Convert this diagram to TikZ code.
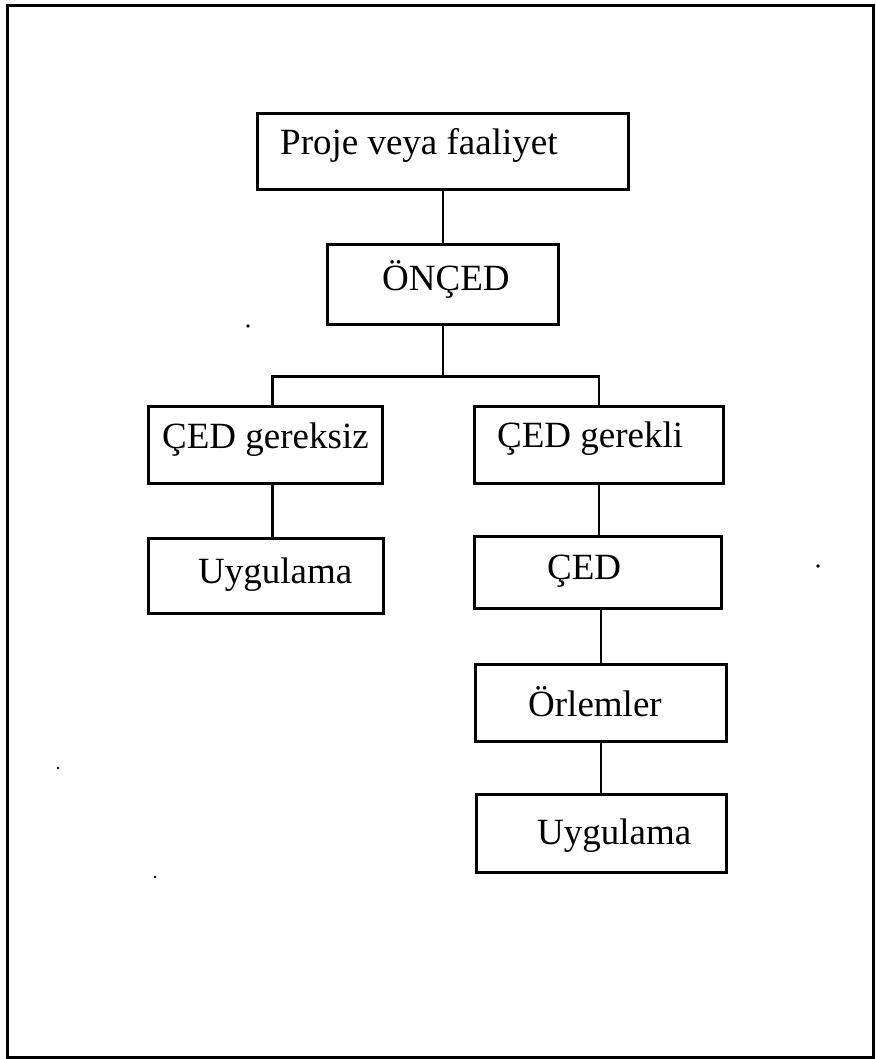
\documentclass[tikz,border=0pt]{standalone}
\usepackage{fontspec}
\setmainfont{Liberation Serif}
\tikzset{
  box/.style={draw, line width=2.6pt, rectangle, inner sep=0pt, anchor=north west},
  lbl/.style={anchor=base west, inner sep=0pt, font=\fontsize{37}{44}\selectfont},
  conn/.style={line width=2.6pt},
  frm/.style={draw, line width=3pt, rectangle, inner sep=0pt, anchor=north west},
  speck/.style={fill=black},
}
\begin{document}
\begin{tikzpicture}[x=1pt,y=-1pt]
\useasboundingbox (0,0) rectangle (877,1059);
\node[frm, minimum width=866pt, minimum height=1052pt] (frame) at (6,4) {};
% boxes
\node[box, minimum width=371pt, minimum height=76pt] (proje) at (256,112) {};
\node[box, minimum width=231pt, minimum height=80pt] (onced) at (326,243) {};
\node[box, minimum width=234pt, minimum height=77pt] (gereksiz) at (147,405) {};
\node[box, minimum width=249pt, minimum height=77pt] (gerekli) at (473,405) {};
\node[box, minimum width=235pt, minimum height=75pt] (uyg1) at (147,537) {};
\node[box, minimum width=247pt, minimum height=72pt] (ced) at (473,535) {};
\node[box, minimum width=251pt, minimum height=77pt] (orlem) at (474,663) {};
\node[box, minimum width=250pt, minimum height=78pt] (uyg2) at (475,793) {};
% texts
\node[lbl] (tproje) at (280,155) {Proje veya faaliyet};
\node[lbl] (tonced) at (382,290) {ÖNÇED};
\node[lbl] (tgereksiz) at (162,448) {ÇED gereksiz};
\node[lbl] (tgerekli) at (497,447) {ÇED gerekli};
\node[lbl] (tuyg1) at (198,583) {Uygulama};
\node[lbl] (tced) at (547,579) {ÇED};
\node[lbl] (torlem) at (528,716) {Örlemler};
\node[lbl] (tuyg2) at (537,844) {Uygulama};
% connectors
\draw[conn] (proje.south) -- (onced.north);
\coordinate (split) at ([yshift=-51pt]onced.south);
\coordinate (lt) at ([xshift=7pt]gereksiz.north);
\coordinate (lb) at ([xshift=7pt]gereksiz.south);
\draw[conn] (onced.south) -- (split);
\draw[conn] (lt) |- (split) -| (gerekli.north);
\draw[conn] (lb) -- (lb |- uyg1.north);
\draw[conn] (gerekli.south) -- (gerekli.south |- ced.north);
\draw[conn] (orlem.north |- ced.south) -- (orlem.north);
\draw[conn] (orlem.south) -- (orlem.south |- uyg2.north);
% scan specks
\fill[speck] (248,326) circle (1.8);
\fill[speck] (818,566) circle (1.8);
\fill[speck] (58,768) circle (1.3);
\fill[speck] (155,877) circle (1.3);
\end{tikzpicture}
\end{document}
